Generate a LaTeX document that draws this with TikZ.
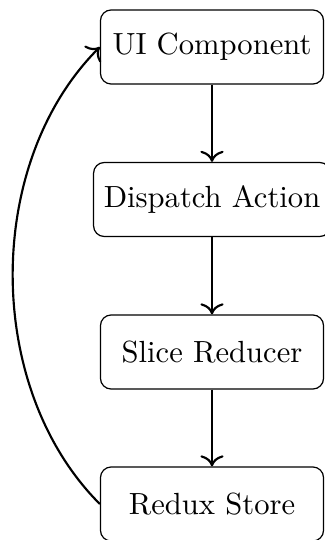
\documentclass[tikz,border=0pt]{standalone}
\usetikzlibrary{arrows.meta}
\begin{document}
\begin{tikzpicture}[
  x=0.3268pt, y=-0.3268pt,
  stagebox/.style={draw, line width=0.4pt, rounded corners=3.5pt,
    minimum width=72.9pt, minimum height=24.2pt, inner sep=3.33pt,
    font=\normalsize},
  flow/.style={-{To[scale=1.15]}, line width=0.7pt}
]
\useasboundingbox (0,0) rectangle (325,540);
\node[stagebox] (ui)       at (212,47)    {UI Component};
\node[stagebox] (dispatch) at (212,199.5) {Dispatch Action};
\node[stagebox] (slice)    at (212,352)   {Slice Reducer};
\node[stagebox] (store)    at (212,504)   {Redux Store};

\draw[flow] (ui) -- (dispatch);
\draw[flow] (dispatch) -- (slice);
\draw[flow] (slice) -- (store);
\draw[flow] (store.west) .. controls +(-116,-116) and +(-116,116) .. (ui.west);
\end{tikzpicture}
\end{document}
